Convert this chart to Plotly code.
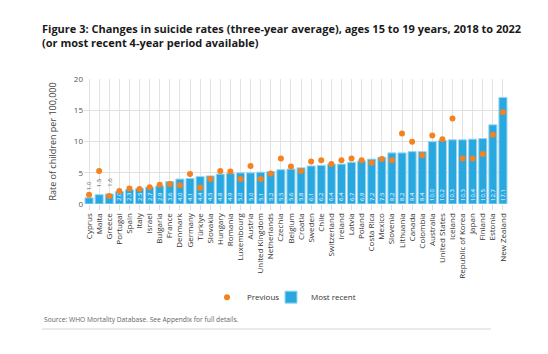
import plotly.graph_objects as go

countries = ["Cyprus", "Malta", "Greece", "Portugal", "Spain", "Italy", "Israel", "Bulgaria",
             "France", "Denmark", "Germany", "Türkiye", "Slovakia", "Hungary", "Romania",
             "Luxembourg", "Austria", "United Kingdom", "Netherlands", "Czechia", "Belgium",
             "Croatia", "Sweden", "Chile", "Switzerland", "Ireland", "Latvia", "Poland",
             "Costa Rica", "Mexico", "Slovenia", "Lithuania", "Canada", "Colombia", "Australia",
             "United States", "Iceland", "Republic of Korea", "Japan", "Finland", "Estonia",
             "New Zealand"]

most_recent = [1.0, 1.5, 1.6, 2.0, 2.3, 2.5, 2.7, 2.9, 3.6, 4.0, 4.1, 4.4, 4.5, 4.8, 4.9,
               5.0, 5.0, 5.1, 5.2, 5.5, 5.6, 5.8, 6.1, 6.2, 6.4, 6.4, 6.7, 6.9,
               7.2, 7.5, 8.2, 8.2, 8.4, 8.4, 10.0, 10.2, 10.3, 10.3, 10.4, 10.5, 12.7, 17.1]

previous = [1.5, 5.3, 1.3, 2.1, 2.5, 2.4, 2.7, 3.1, 3.2, 3.0, 4.8, 2.6, 4.0, 5.3, 5.2,
            4.0, 6.1, 4.0, 4.9, 7.3, 6.0, 5.3, 6.8, 7.0, 6.4, 7.0, 7.3, 7.0,
            6.6, 7.2, 7.0, 11.3, 10.0, 7.8, 11.0, 10.4, 13.7, 7.3, 7.3, 8.0, 11.1, 14.7]

FONT = "Open Sans"
BLUE = "#29a8e0"
ORANGE = "#f5821f"

is_small = [v < 1.8 for v in most_recent]
inside_text = ["" if s else f"{v:.1f}" for v, s in zip(most_recent, is_small)]

fig = go.Figure()
fig.add_trace(go.Bar(
    x=countries, y=most_recent, name="Most recent",
    marker=dict(color=BLUE, line=dict(color="#9ad6f2", width=1)),
    text=inside_text, textposition="inside", textangle=-90,
    insidetextanchor="start",
    insidetextfont=dict(color="white", size=6, family=FONT),
    legend="legend2",
))
fig.add_trace(go.Scatter(
    x=countries, y=previous, name="Previous", mode="markers",
    marker=dict(color=ORANGE, size=6, symbol="circle"),
    legend="legend",
))

for c, v, s in zip(countries, most_recent, is_small):
    if s:
        fig.add_annotation(
            x=c, y=v, text=f"{v:.1f}", textangle=-90, showarrow=False,
            xanchor="center", yanchor="bottom", yshift=5,
            font=dict(size=6, color="#555555", family=FONT),
        )

legend_common = dict(orientation="h", xanchor="left", y=-0.745, yanchor="middle",
                     font=dict(size=8, color="#333333", family=FONT), itemwidth=30,
                     bgcolor="rgba(0,0,0,0)")

fig.update_layout(
    width=548, height=354,
    margin=dict(l=84, r=40, t=79, b=150),
    paper_bgcolor="white", plot_bgcolor="white",
    font=dict(family=FONT, color="#333333"),
    bargap=0.2,
    showlegend=True,
    legend=dict(x=(207 - 84) / 424, **legend_common),
    legend2=dict(x=(271 - 84) / 424, **legend_common),
    title=dict(
        text="<b>Figure 3: Changes in suicide rates (three-year average), ages 15 to 19 years, 2018 to 2022"
             "<br>(or most recent 4-year period available)</b>",
        x=42 / 548, xanchor="left", xref="container",
        y=1 - 33 / 354, yanchor="top", yref="container",
        font=dict(size=11, color="#1a1a1a", family=FONT),
    ),
    uniformtext=dict(minsize=6, mode="show"),
)

fig.update_xaxes(
    type="category", range=[-0.5, len(countries) - 0.5],
    showgrid=True, gridcolor="#e3e3e3", gridwidth=1,
    ticks="outside", ticklen=5, tickcolor="#dddddd",
    tickangle=-90, tickfont=dict(size=8, color="#333333", family=FONT),
    showline=False, zeroline=False,
)
fig.update_yaxes(
    range=[0, 20.05], dtick=5, tick0=0,
    showgrid=True, gridcolor="#e0e0e0", gridwidth=1,
    zeroline=False, showline=False,
    tickfont=dict(size=8, color="#555555", family=FONT),
    title=dict(text="Rate of children per 100,000", font=dict(size=9, color="#444444", family=FONT),
               standoff=15),
)

fig.add_annotation(
    text="Source: WHO Mortality Database. See Appendix for full details.",
    xref="paper", yref="paper", x=(42 - 84) / 424, y=(204 - 319) / 125,
    xanchor="left", yanchor="middle", showarrow=False,
    font=dict(size=6.7, color="#666666", family=FONT),
)
fig.add_shape(
    type="line", xref="paper", yref="paper",
    x0=(42 - 84) / 424, x1=(491 - 84) / 424,
    y0=(204 - 329) / 125, y1=(204 - 329) / 125,
    line=dict(color="#e3e3e3", width=1.5),
)

fig.write_html("out.html")
